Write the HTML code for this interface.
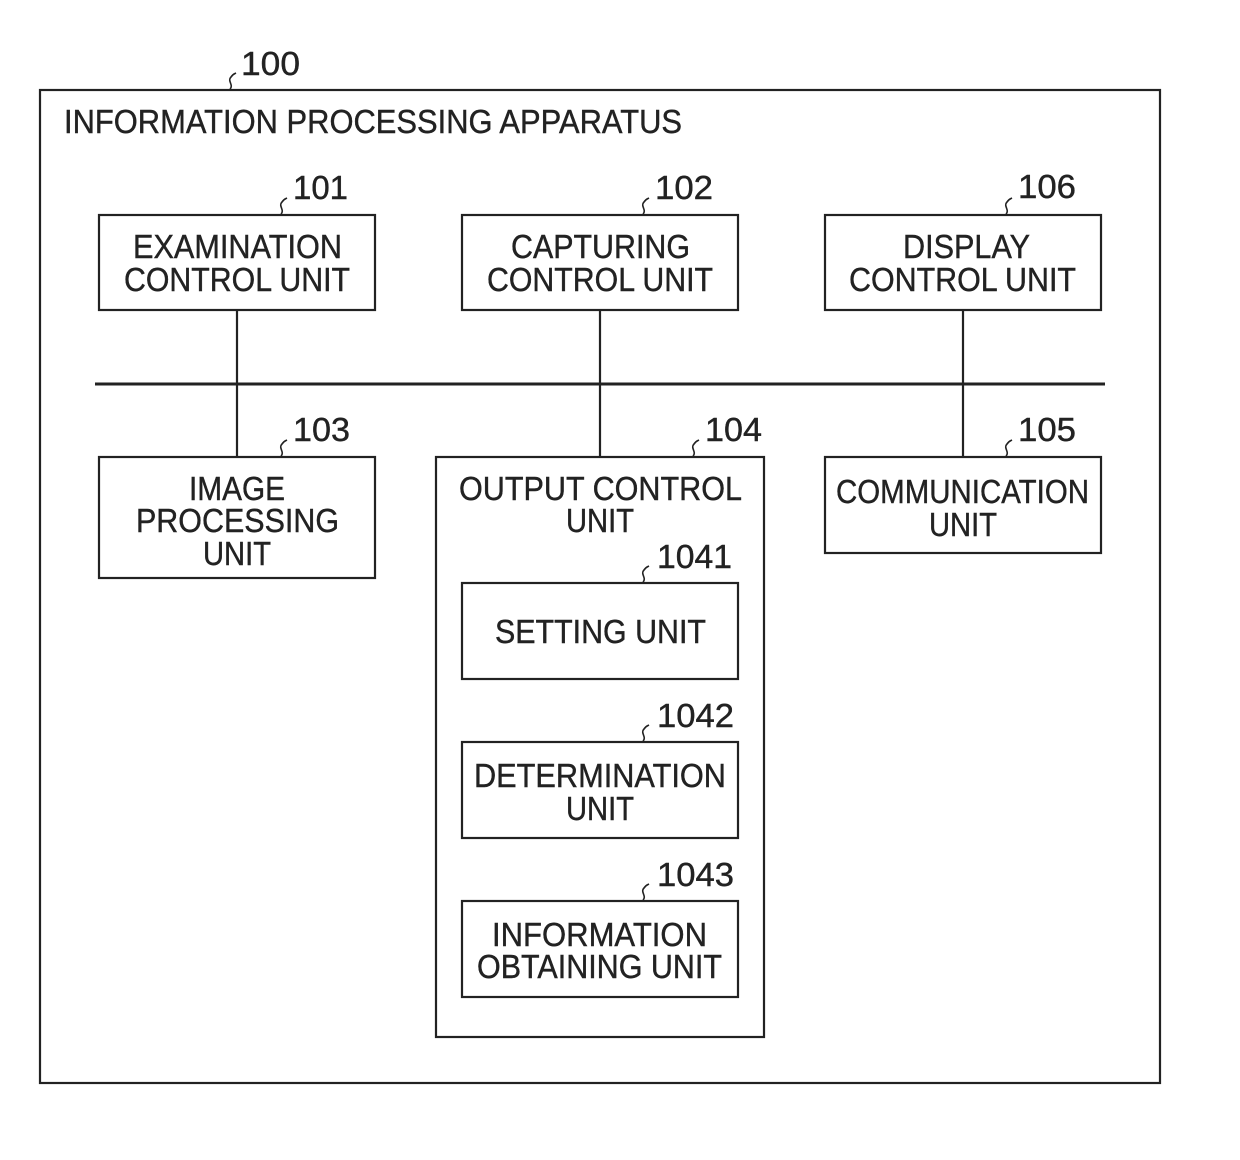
<!DOCTYPE html>
<html><head><meta charset="utf-8"><style>
html,body{margin:0;padding:0;background:#fff;}
svg{display:block;}
text{font-family:"Liberation Sans",sans-serif;fill:#222;stroke:#222;stroke-width:0.4;}
</style></head><body>
<svg width="1240" height="1160" viewBox="0 0 1240 1160" xmlns="http://www.w3.org/2000/svg">
<g fill="none" stroke="#222" stroke-width="2.2">
<rect x="40" y="90" width="1120" height="993"/>
<rect x="99" y="215" width="276" height="95"/>
<rect x="462" y="215" width="276" height="95"/>
<rect x="825" y="215" width="276" height="95"/>
<line x1="95" y1="384" x2="1105" y2="384" stroke-width="3"/>
<line x1="237" y1="310" x2="237" y2="457"/>
<line x1="600" y1="310" x2="600" y2="457"/>
<line x1="963" y1="310" x2="963" y2="457"/>
<rect x="99" y="457" width="276" height="121"/>
<rect x="436" y="457" width="328" height="580"/>
<rect x="825" y="457" width="276" height="96"/>
<rect x="462" y="583" width="276" height="96"/>
<rect x="462" y="742" width="276" height="96"/>
<rect x="462" y="901" width="276" height="96"/>
<g stroke-width="1.6">
<path d="M230,89 c4,-4 -3,-8 1,-12 c2,-3 3,-3 5,-4"/>
<path d="M281,214 c4,-4 -3,-8 1,-12 c2,-3 3,-3 5,-4"/>
<path d="M643,214 c4,-4 -3,-8 1,-12 c2,-3 3,-3 5,-4"/>
<path d="M1006,214 c4,-4 -3,-8 1,-12 c2,-3 3,-3 5,-4"/>
<path d="M281,456 c4,-4 -3,-8 1,-12 c2,-3 3,-3 5,-4"/>
<path d="M693,456 c4,-4 -3,-8 1,-12 c2,-3 3,-3 5,-4"/>
<path d="M1006,456 c4,-4 -3,-8 1,-12 c2,-3 3,-3 5,-4"/>
<path d="M643,582 c4,-4 -3,-8 1,-12 c2,-3 3,-3 5,-4"/>
<path d="M643,741 c4,-4 -3,-8 1,-12 c2,-3 3,-3 5,-4"/>
<path d="M643,900 c4,-4 -3,-8 1,-12 c2,-3 3,-3 5,-4"/>
</g>
</g>
<g font-size="33">
<text x="241" y="75" textLength="59" lengthAdjust="spacingAndGlyphs">100</text>
<text x="64" y="133" textLength="618" lengthAdjust="spacingAndGlyphs">INFORMATION PROCESSING APPARATUS</text>
<text x="293" y="199" textLength="55" lengthAdjust="spacingAndGlyphs">101</text>
<text x="655" y="199" textLength="58" lengthAdjust="spacingAndGlyphs">102</text>
<text x="1018" y="198" textLength="58" lengthAdjust="spacingAndGlyphs">106</text>
<text x="293" y="441" textLength="57" lengthAdjust="spacingAndGlyphs">103</text>
<text x="705" y="441" textLength="57" lengthAdjust="spacingAndGlyphs">104</text>
<text x="1018" y="441" textLength="58" lengthAdjust="spacingAndGlyphs">105</text>
<text x="657" y="568" textLength="75" lengthAdjust="spacingAndGlyphs">1041</text>
<text x="657" y="727" textLength="77" lengthAdjust="spacingAndGlyphs">1042</text>
<text x="657" y="886" textLength="77" lengthAdjust="spacingAndGlyphs">1043</text>

<text x="133" y="258" textLength="209" lengthAdjust="spacingAndGlyphs">EXAMINATION</text>
<text x="124" y="291" textLength="226" lengthAdjust="spacingAndGlyphs">CONTROL UNIT</text>
<text x="511" y="258" textLength="179" lengthAdjust="spacingAndGlyphs">CAPTURING</text>
<text x="487" y="291" textLength="226" lengthAdjust="spacingAndGlyphs">CONTROL UNIT</text>
<text x="903" y="258" textLength="127" lengthAdjust="spacingAndGlyphs">DISPLAY</text>
<text x="849" y="291" textLength="227" lengthAdjust="spacingAndGlyphs">CONTROL UNIT</text>
<text x="189" y="500" textLength="96" lengthAdjust="spacingAndGlyphs">IMAGE</text>
<text x="136" y="532" textLength="203" lengthAdjust="spacingAndGlyphs">PROCESSING</text>
<text x="203" y="565" textLength="68" lengthAdjust="spacingAndGlyphs">UNIT</text>
<text x="459" y="500" textLength="283" lengthAdjust="spacingAndGlyphs">OUTPUT CONTROL</text>
<text x="566" y="532" textLength="68" lengthAdjust="spacingAndGlyphs">UNIT</text>
<text x="836" y="503" textLength="253" lengthAdjust="spacingAndGlyphs">COMMUNICATION</text>
<text x="929" y="536" textLength="68" lengthAdjust="spacingAndGlyphs">UNIT</text>
<text x="495" y="643" textLength="211" lengthAdjust="spacingAndGlyphs">SETTING UNIT</text>
<text x="474" y="787" textLength="252" lengthAdjust="spacingAndGlyphs">DETERMINATION</text>
<text x="566" y="820" textLength="68" lengthAdjust="spacingAndGlyphs">UNIT</text>
<text x="492" y="946" textLength="215" lengthAdjust="spacingAndGlyphs">INFORMATION</text>
<text x="477" y="978" textLength="245" lengthAdjust="spacingAndGlyphs">OBTAINING UNIT</text>
</g>
</svg>
</body></html>
